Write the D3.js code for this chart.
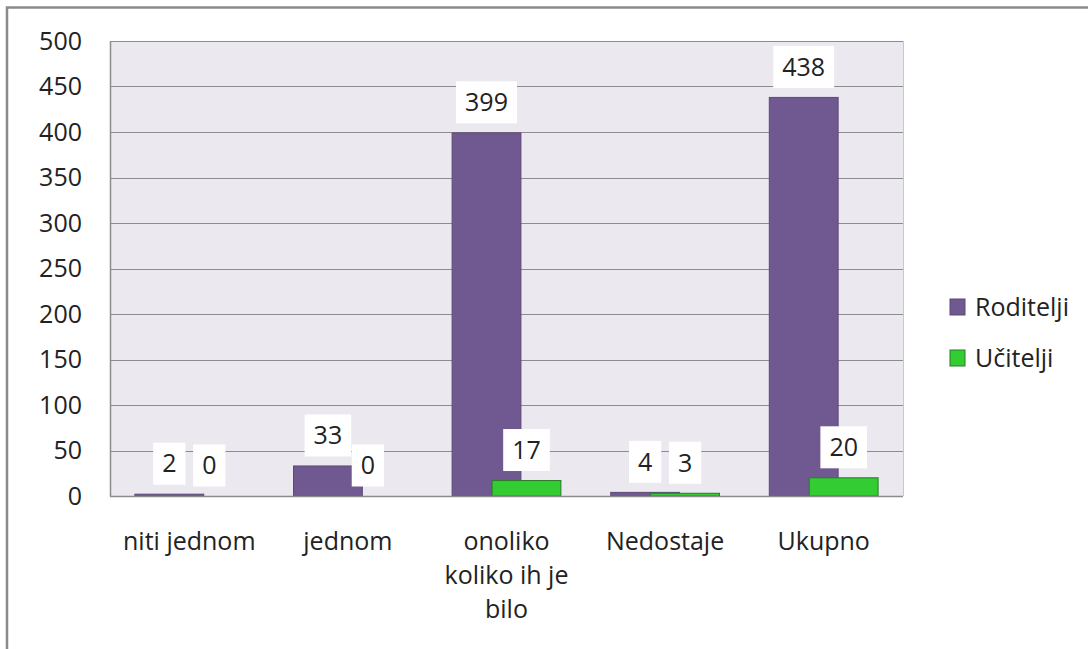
<!DOCTYPE html>
<html>
<head>
<meta charset="utf-8">
<script src="https://cdn.jsdelivr.net/npm/d3@7"></script>
<style>
  body { margin: 0; background: #fff; }
  text { font-family: "Open Sans", sans-serif; fill: #222; }
</style>
</head>
<body>
<script>
const width = 1088;
const height = 649;

const categories = ["niti jednom", "jednom", "onoliko koliko ih je bilo", "Nedostaje", "Ukupno"];
const categoryLines = [["niti jednom"], ["jednom"], ["onoliko", "koliko ih je", "bilo"], ["Nedostaje"], ["Ukupno"]];
const seriesNames = ["Roditelji", "Učitelji"];
const roditelji = [2, 33, 399, 4, 438];
const ucitelji = [0, 0, 17, 3, 20];
const yTicks = [0, 50, 100, 150, 200, 250, 300, 350, 400, 450, 500];

const colors = { "Roditelji": "#705891", "Učitelji": "#33cc33" };
const strokes = { "Roditelji": "#5d4a78", "Učitelji": "#2b7a2b" };

const plot = { left: 110, right: 903, top: 41, bottom: 496 };

const svg = d3.select("body")
    .append("svg")
    .attr("width", width)
    .attr("height", height);

// chart outer border (right/bottom run off the picture)
svg.append("rect")
    .attr("x", 7)
    .attr("y", 7.5)
    .attr("width", width + 20)
    .attr("height", height + 20)
    .attr("fill", "#fff")
    .attr("stroke", "#8a8a8a")
    .attr("stroke-width", 2.5);

const x = d3.scaleBand().domain(categories).range([plot.left, plot.right]).padding(0);
const y = d3.scaleLinear().domain([0, 500]).range([plot.bottom, plot.top]);
const barW = x.bandwidth() * 0.434;
const xs = d3.scalePoint().domain(seriesNames).range([-x.bandwidth() * 0.126, x.bandwidth() * 0.126]);

// plot background
svg.append("rect")
    .attr("x", plot.left)
    .attr("y", plot.top)
    .attr("width", plot.right - plot.left)
    .attr("height", plot.bottom - plot.top)
    .attr("fill", "#ebe8ef");

// gridlines
svg.selectAll(".grid").data(yTicks.filter(d => d > 0))
    .join("line")
    .attr("class", "grid")
    .attr("x1", plot.left)
    .attr("x2", plot.right)
    .attr("y1", d => Math.round(y(d)) + 0.5)
    .attr("y2", d => Math.round(y(d)) + 0.5)
    .attr("stroke", "#8c8c8c")
    .attr("stroke-width", 1);

// right border of plot
svg.append("line")
    .attr("x1", plot.right + 0.5).attr("x2", plot.right + 0.5)
    .attr("y1", plot.top).attr("y2", plot.bottom)
    .attr("stroke", "#c8c8c8");

// y axis
const yAxis = d3.axisLeft(y).tickValues(yTicks).tickSize(0).tickPadding(28);
const gy = svg.append("g").attr("transform", `translate(${plot.left},0)`).call(yAxis);
gy.select(".domain").attr("stroke", "#8c8c8c").attr("stroke-width", 1.5);
gy.selectAll("text").style("font-size", "25px").attr("fill", "#222").style("font-family", "'Open Sans', sans-serif");

// bars
const table = categories.map((c, i) => ({ cat: c, values: [
    { series: "Roditelji", value: roditelji[i] },
    { series: "Učitelji", value: ucitelji[i] }
]}));

const groups = svg.selectAll(".group").data(table)
    .join("g")
    .attr("class", "group")
    .attr("transform", d => `translate(${x(d.cat) + x.bandwidth() / 2},0)`);

groups.selectAll("rect").data(d => d.values.filter(v => v.value > 0))
    .join("rect")
    .attr("x", d => xs(d.series) - barW / 2)
    .attr("y", d => y(d.value))
    .attr("width", barW)
    .attr("height", d => plot.bottom - y(d.value))
    .attr("fill", d => colors[d.series])
    .attr("stroke", d => strokes[d.series])
    .attr("stroke-width", 1);

// x axis line
svg.append("line")
    .attr("x1", plot.left).attr("x2", plot.right)
    .attr("y1", plot.bottom + 0.5).attr("y2", plot.bottom + 0.5)
    .attr("stroke", "#8c8c8c").attr("stroke-width", 1.5);

// data labels with white boxes
const labels = groups.selectAll(".lbl").data(d => d.values)
    .join("g")
    .attr("class", "lbl")
    .attr("transform", d => `translate(${xs(d.series)},${y(d.value) - 30.5})`);

labels.append("text")
    .attr("text-anchor", "middle")
    .attr("dy", "0.35em")
    .style("font-size", "25px")
    .text(d => d.value);

labels.each(function () {
    const g = d3.select(this);
    const w = g.select("text").node().getComputedTextLength() + 18;
    g.insert("rect", "text")
        .attr("x", -w / 2)
        .attr("y", -21)
        .attr("width", w)
        .attr("height", 42)
        .attr("fill", "#fff");
});

// category labels
svg.selectAll(".cat").data(categories)
    .join("text")
    .attr("class", "cat")
    .attr("text-anchor", "middle")
    .attr("x", d => x(d) + x.bandwidth() / 2)
    .attr("y", 550)
    .style("font-size", "25px")
    .each(function (d, i) {
        d3.select(this).selectAll("tspan").data(categoryLines[i])
            .join("tspan")
            .attr("x", x(d) + x.bandwidth() / 2)
            .attr("dy", (t, j) => j === 0 ? 0 : 34)
            .text(t => t);
    });

// legend
const legend = svg.append("g").attr("transform", "translate(950,307)");
const li = legend.selectAll("g").data(seriesNames)
    .join("g")
    .attr("transform", (d, i) => `translate(0,${i * 51})`);
li.append("rect")
    .attr("x", 0).attr("y", -8)
    .attr("width", 15).attr("height", 16)
    .attr("fill", d => colors[d])
    .attr("stroke", d => strokes[d]);
li.append("text")
    .attr("x", 25)
    .attr("dy", "0.35em")
    .style("font-size", "25px")
    .text(d => d);
</script>
</body>
</html>
